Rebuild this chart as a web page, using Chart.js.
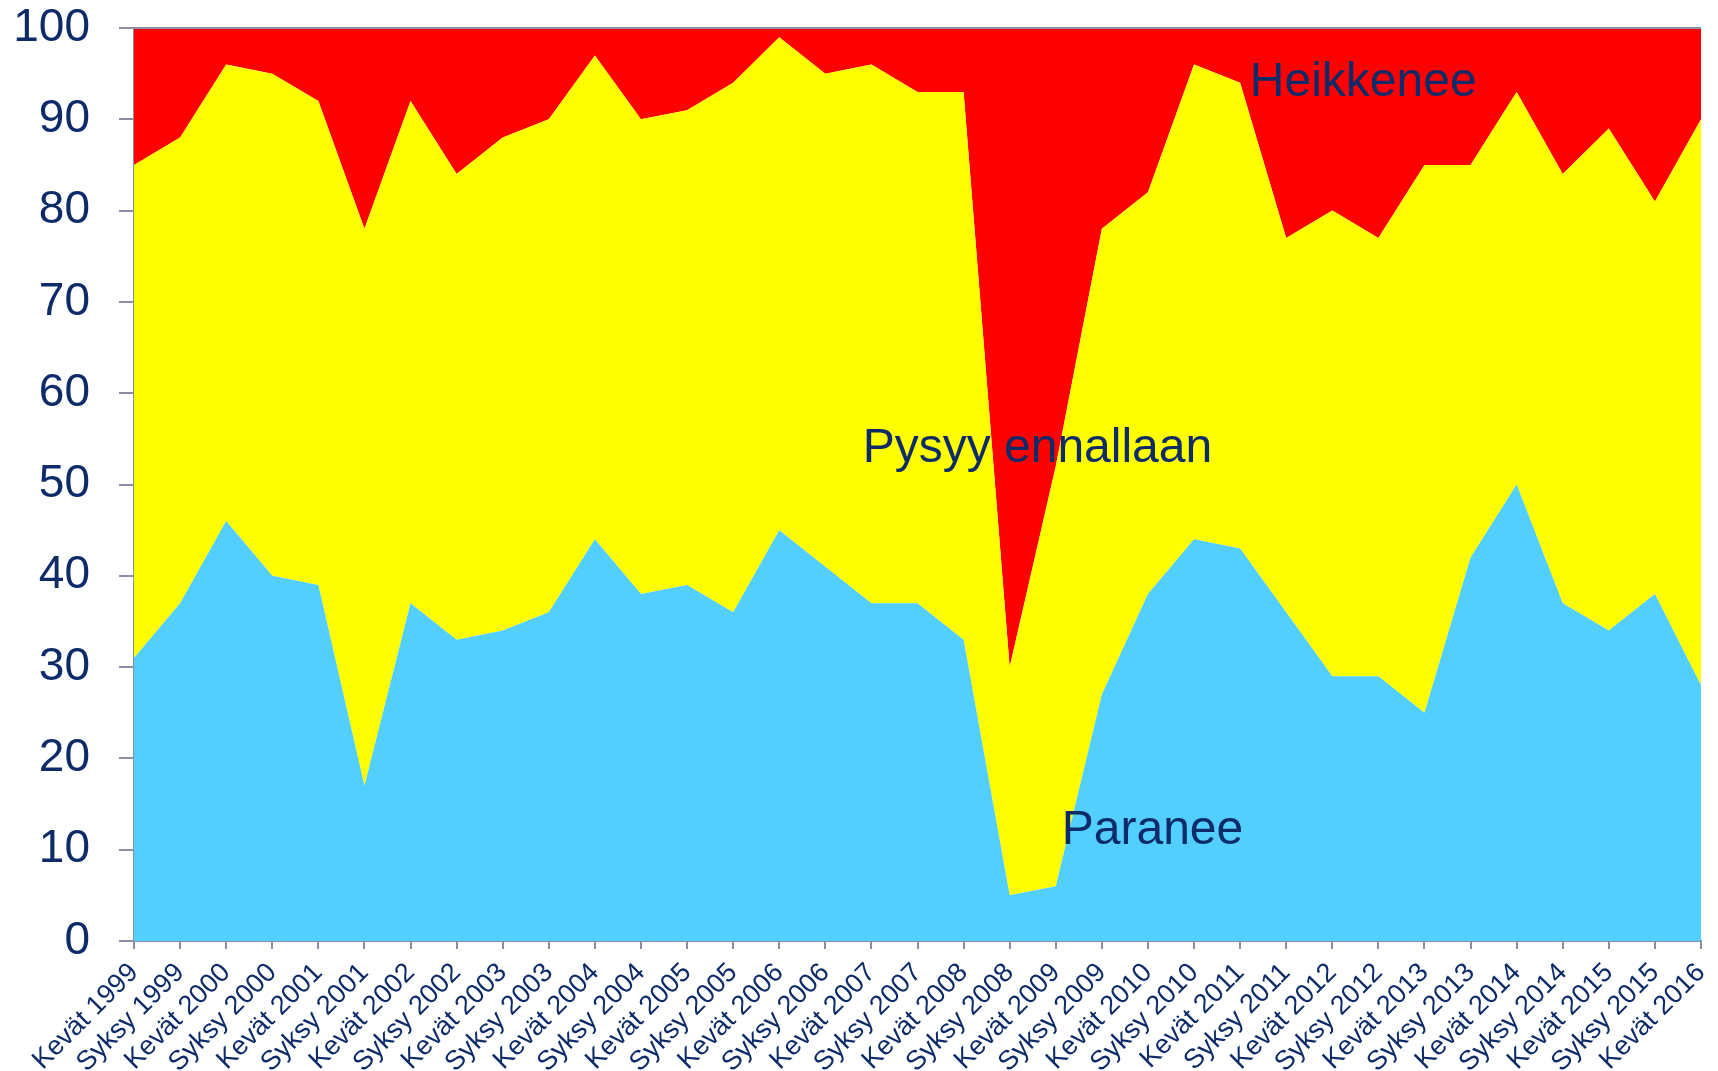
<!DOCTYPE html>
<html>
<head>
<meta charset="utf-8">
<script src="https://cdn.jsdelivr.net/npm/chart.js@4/dist/chart.umd.min.js"></script>
<style>
  html, body { margin: 0; padding: 0; background: #fff; }
  #wrap { width: 1718px; height: 1071px; position: relative; }
</style>
</head>
<body>
<div id="wrap"><canvas id="myChart" width="1718" height="1071"></canvas></div>
<script>
// kategoriat (kevät / syksy)
var categories = [
    'Kevät 1999', 'Syksy 1999', 'Kevät 2000', 'Syksy 2000', 'Kevät 2001', 'Syksy 2001',
    'Kevät 2002', 'Syksy 2002', 'Kevät 2003', 'Syksy 2003', 'Kevät 2004', 'Syksy 2004',
    'Kevät 2005', 'Syksy 2005', 'Kevät 2006', 'Syksy 2006', 'Kevät 2007', 'Syksy 2007',
    'Kevät 2008', 'Syksy 2008', 'Kevät 2009', 'Syksy 2009', 'Kevät 2010', 'Syksy 2010',
    'Kevät 2011', 'Syksy 2011', 'Kevät 2012', 'Syksy 2012', 'Kevät 2013', 'Syksy 2013',
    'Kevät 2014', 'Syksy 2014', 'Kevät 2015', 'Syksy 2015', 'Kevät 2016'
];

// osuudet (%)
var paranee = [31, 37, 46, 40, 39, 17, 37, 33, 34, 36, 44, 38, 39, 36, 45, 41, 37, 37,
    33, 5, 6, 27, 38, 44, 43, 36, 29, 29, 25, 42, 50, 37, 34, 38, 28];
var pysyy = [54, 51, 50, 55, 53, 61, 55, 51, 54, 54, 53, 52, 52, 58, 54, 54, 59, 56,
    60, 25, 46, 51, 44, 52, 51, 41, 51, 48, 60, 43, 43, 47, 55, 43, 62];
var heikkenee = [15, 12, 4, 5, 8, 22, 8, 16, 12, 10, 3, 10, 9, 6, 1, 5, 4, 7,
    7, 70, 48, 22, 18, 4, 6, 23, 20, 23, 15, 15, 7, 16, 11, 19, 10];

var yTicks = [0, 10, 20, 30, 40, 50, 60, 70, 80, 90, 100];

// sarjojen nimet kuvan sisällä: [teksti, kategoria-indeksi, arvo]
var areaLabels = [
    ['Heikkenee', 24.21, 92.5],
    ['Pysyy ennallaan', 15.81, 52.5],
    ['Paranee', 20.13, 10.6]
];

var navy = '#0c2b68';
var axisGray = '#8c8fa3';
var fontFamily = '"Liberation Sans", Arial, sans-serif';

var labelPlugin = {
    id: 'areaLabels',
    afterDatasetsDraw: function(chart) {
        var ctx = chart.ctx;
        var xs = chart.scales.x, ys = chart.scales.y;
        var a = chart.chartArea;
        ctx.save();
        // yläreuna
        ctx.strokeStyle = axisGray;
        ctx.lineWidth = 2;
        ctx.beginPath();
        ctx.moveTo(a.left, a.top);
        ctx.lineTo(a.right, a.top);
        ctx.stroke();
        ctx.fillStyle = navy;
        ctx.font = '48px ' + fontFamily;
        ctx.textAlign = 'left';
        ctx.textBaseline = 'alphabetic';
        areaLabels.forEach(function(l) {
            ctx.fillText(l[0], xs.getPixelForValue(l[1]), ys.getPixelForValue(l[2]));
        });
        ctx.restore();
    }
};

var ctx = document.getElementById('myChart').getContext('2d');
var chart = new Chart(ctx, {
    type: 'line',
    data: {
        labels: categories,
        datasets: [{
            label: 'Paranee',
            data: paranee,
            backgroundColor: '#53cfff',
            borderWidth: 0,
            pointRadius: 0,
            fill: 'origin'
        }, {
            label: 'Pysyy ennallaan',
            data: pysyy,
            backgroundColor: '#ffff00',
            borderWidth: 0,
            pointRadius: 0,
            fill: '-1'
        }, {
            label: 'Heikkenee',
            data: heikkenee,
            backgroundColor: '#ff0000',
            borderWidth: 0,
            pointRadius: 0,
            fill: '-1'
        }]
    },
    options: {
        responsive: false,
        animation: false,
        layout: { padding: { top: 28, right: 17, left: 0, bottom: 0 } },
        plugins: {
            legend: { display: false },
            tooltip: { enabled: false }
        },
        elements: { line: { tension: 0 } },
        scales: {
            x: {
                offset: false,
                grid: { drawOnChartArea: false, color: axisGray, tickLength: 8, lineWidth: 2 },
                border: { color: axisGray, width: 2 },
                ticks: {
                    color: navy,
                    font: { size: 27, family: fontFamily },
                    autoSkip: false,
                    maxRotation: 45,
                    minRotation: 45,
                    padding: 8
                },
                afterFit: function(scale) {
                    scale.height = 130;
                    scale.paddingRight = 0;
                }
            },
            y: {
                stacked: true,
                min: 0,
                max: 100,
                afterBuildTicks: function(scale) {
                    scale.ticks = yTicks.map(function(v) { return { value: v }; });
                },
                grid: { drawOnChartArea: false, color: axisGray, tickLength: 15, lineWidth: 2 },
                border: { color: axisGray, width: 2 },
                ticks: {
                    color: navy,
                    font: { size: 46, family: fontFamily },
                    padding: 29
                },
                afterFit: function(scale) {
                    scale.width = 134;
                    scale.paddingTop = 0;
                    scale.paddingBottom = 0;
                }
            }
        }
    },
    plugins: [labelPlugin]
});
</script>
</body>
</html>
